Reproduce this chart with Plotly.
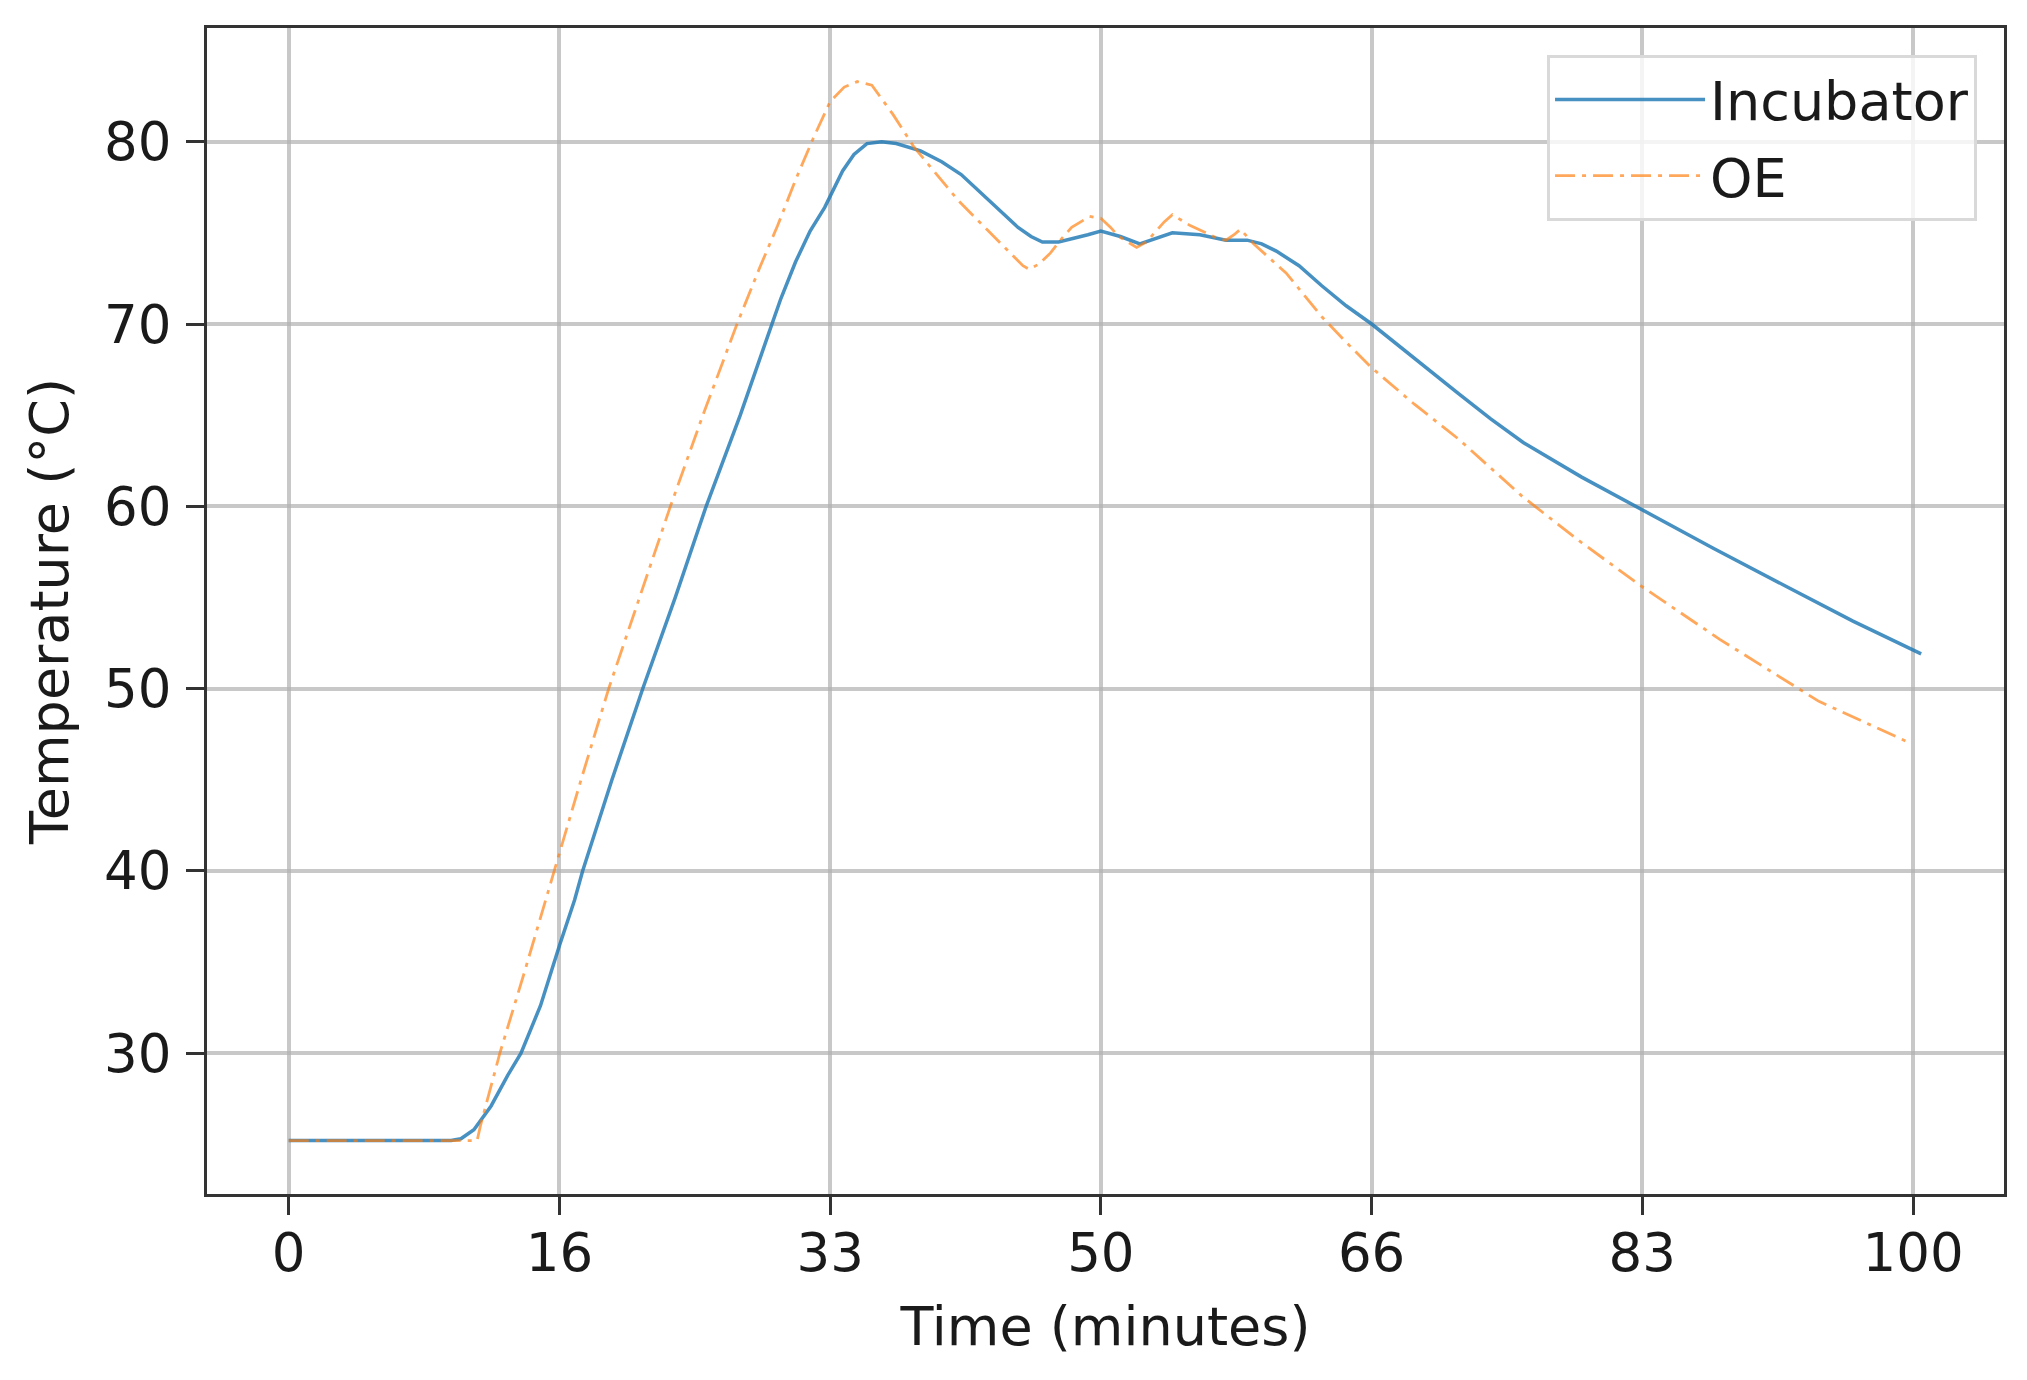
'''
    Incubator vs OE temperature over time.
'''
import plotly.graph_objects as go

# Incubator readings (minutes, deg C)
time_inc = [0, 5, 10, 10.6, 11.4, 12.46, 13.5, 14.3, 15.5, 16.67, 17.6, 18.1, 19.9,
            21.8, 23.8, 25.7, 27.8, 29.4, 30.3, 31.2, 32.1, 33.0, 34.1, 34.8,
            35.6, 36.5, 37.4, 38.9, 40.2, 41.4, 42.7, 43.8, 44.9, 45.7, 46.4,
            47.4, 48.4, 49.2, 50.0, 51.2, 52.4, 53.4, 54.4, 56.1, 57.7, 59.0,
            59.9, 60.8, 62.2, 63.6, 65.1, 66.67, 69.3, 72.0, 74.0, 76.0, 79.6,
            83.3, 87.7, 92.2, 96.3, 100.5]
temp_inc = [25.2, 25.2, 25.2, 25.3, 25.8, 27.1, 28.8, 30.0, 32.6, 35.9, 38.4, 40.0, 45.0,
            50.0, 55.0, 60.0, 65.0, 69.1, 71.4, 73.4, 75.1, 76.4, 78.4, 79.3,
            79.9, 80.0, 79.9, 79.5, 78.9, 78.2, 77.1, 76.2, 75.3, 74.8, 74.5,
            74.5, 74.7, 74.9, 75.1, 74.8, 74.4, 74.7, 75.0, 74.9, 74.6, 74.6,
            74.4, 74.0, 73.2, 72.1, 71.0, 70.0, 68.1, 66.2, 64.8, 63.5, 61.6,
            59.8, 57.7, 55.6, 53.7, 51.9]

# OE model output (minutes, deg C)
time_oe = [0, 5, 10, 11.6, 11.8, 13.0, 14.5, 16.35, 18.0, 19.7, 21.6, 23.5, 25.5,
           27.6, 29.0, 30.1, 31.2, 32.3, 33.33, 34.2, 35.0, 35.9, 37.2, 38.5,
           39.9, 41.2, 42.3, 43.4, 44.5, 45.2, 45.6, 46.2, 46.9, 47.6, 48.2,
           49.3, 50.0, 50.6, 51.1, 52.2, 52.8, 53.3, 53.9, 54.4, 55.5, 57.2,
           57.7, 58.2, 58.6, 59.0, 59.4, 60.4, 61.4, 62.5, 63.6, 65.1, 66.67,
           69.3, 72.0, 76.0, 79.6, 83.3, 88.1, 94.2, 99.6]
temp_oe = [25.2, 25.2, 25.2, 25.2, 26.0, 30.0, 34.4, 40.0, 45.0, 50.0, 55.0, 60.0, 65.0,
           70.0, 73.1, 75.4, 77.9, 80.2, 82.2, 83.0, 83.3, 83.1, 81.5, 79.7,
           78.2, 76.8, 75.8, 74.8, 73.8, 73.2, 73.0, 73.3, 73.9, 74.7, 75.3,
           75.9, 75.8, 75.3, 74.8, 74.2, 74.5, 75.0, 75.6, 76.0, 75.4, 74.7,
           74.6, 74.9, 75.2, 74.8, 74.4, 73.6, 72.8, 71.6, 70.4, 69.0, 67.6,
           65.6, 63.7, 60.5, 58.0, 55.6, 52.7, 49.3, 47.1]

x_tick_vals = [0, 16.667, 33.333, 50, 66.667, 83.333, 100]
x_tick_text = ['0', '16', '33', '50', '66', '83', '100']
y_tick_vals = [30, 40, 50, 60, 70, 80]

fig = go.Figure()

fig.add_trace(go.Scatter(
      x=time_inc,
      y=temp_inc,
      mode='lines',
      name='Incubator',
      legendgroup='inc',
      line=dict(color='rgba(31,119,180,0.82)', width=3.5)
))

fig.add_trace(go.Scatter(
      x=time_oe,
      y=temp_oe,
      mode='lines',
      name='OE',
      legendgroup='oe',
      line=dict(color='rgba(255,127,14,0.68)', width=2.8, dash='20px,7px,4px,7px')
))

axis_style = dict(
      automargin=False,
      showline=True,
      linecolor='#333333',
      linewidth=3,
      mirror=True,
      showgrid=True,
      gridcolor='rgba(176,176,176,0.7)',
      gridwidth=3.5,
      zeroline=False,
      ticks='outside',
      ticklen=18,
      tickwidth=3,
      tickcolor='#333333',
      tickfont=dict(size=53, color='#1a1a1a'),
)

fig.update_xaxes(
      axis_style,
      range=[-5.03, 105.6],
      tickvals=x_tick_vals,
      ticktext=x_tick_text,
      ticklabelstandoff=-8,
      title=dict(text='Time (minutes)', font=dict(size=54, color='#1a1a1a'), standoff=26)
)
fig.update_yaxes(
      axis_style,
      range=[22.27, 86.24],
      tickvals=y_tick_vals,
      ticklabelstandoff=4,
      title=dict(text='Temperature (°C)', font=dict(size=54, color='#1a1a1a'), standoff=19)
)

fig.update_layout(
      width=2019,
      height=1372,
      margin=dict(l=199, r=23, t=20, b=186),
      paper_bgcolor='white',
      plot_bgcolor='white',
      font_family='DejaVu Sans',
      showlegend=True,
      legend=dict(
            x=0.985,
            y=0.977,
            xanchor='right',
            yanchor='top',
            bgcolor='rgba(255,255,255,0.8)',
            bordercolor='#d9d9d9',
            borderwidth=3,
            font=dict(size=54, color='#1a1a1a'),
            itemwidth=150,
            tracegroupgap=3
      )
)

fig.write_html("out.html")
